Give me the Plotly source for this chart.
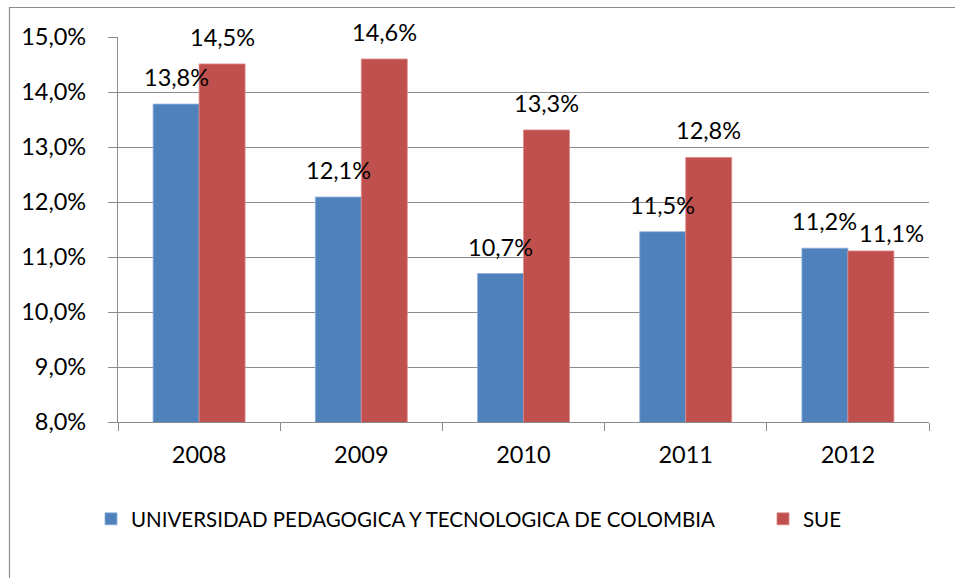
import plotly.graph_objects as go

years = ["2008", "2009", "2010", "2011", "2012"]
series_names = ["UNIVERSIDAD PEDAGOGICA Y TECNOLOGICA DE COLOMBIA", "SUE"]
uptc = [0.1378, 0.1209, 0.1070, 0.1146, 0.1116]
sue = [0.1451, 0.1460, 0.1331, 0.1281, 0.1111]
colors = ["#4F81BD", "#C0504D"]
edge_colors = ["#8DB0DC", "#DC8A88"]

W, H = 955, 578
ML, MR, MT, MB = 118, 26, 37, 156
PW, PH = W - ML - MR, H - MT - MB

def fmt(v):
    return f"{v*100:.1f}%".replace(".", ",")

fig = go.Figure()
legends = ["legend", "legend2"]
for name, vals, c, ec, lg in zip(series_names, [uptc, sue], colors, edge_colors, legends):
    fig.add_trace(go.Bar(x=years, y=vals, name=name, legend=lg,
                         marker=dict(color=c, line=dict(color=ec, width=0.8)),
                         hoverinfo="skip"))

FONT = "Lato, Carlito, Calibri, sans-serif"
FS = 23.5
annotations = []
for i, y in enumerate(years):
    a, b = uptc[i], sue[i]
    overlap = abs(a - b) < 0.003
    annotations.append(dict(x=i, y=a, text=fmt(a), xref="x", yref="y",
                            xshift=-23, yshift=27, showarrow=False,
                            font=dict(family=FONT, size=FS, color="#000")))
    annotations.append(dict(x=i, y=b, text=fmt(b), xref="x", yref="y",
                            xshift=23 + (21 if overlap else 0),
                            yshift=18 if overlap else 27, showarrow=False,
                            font=dict(family=FONT, size=FS, color="#000")))

# chart outer frame (pixels -> paper)
def px_x(p):
    return (p - ML) / PW
def px_y(p):
    return (H - MB - p) / PH

shapes = [dict(type="rect", xref="paper", yref="paper",
               x0=px_x(9.5), x1=px_x(W + 20), y0=px_y(H + 20), y1=px_y(7.5),
               line=dict(color="#8C8C8C", width=1.2), fillcolor="rgba(0,0,0,0)",
               layer="below")]

leg_common = dict(orientation="h", yanchor="middle", xanchor="left",
                  font=dict(family=FONT, size=20.5, color="#000"),
                  bgcolor="rgba(0,0,0,0)")

fig.update_layout(
    width=W, height=H,
    margin=dict(l=ML, r=MR, t=MT, b=MB),
    paper_bgcolor="white", plot_bgcolor="white",
    separators=",.",
    barmode="group", bargap=0.433, bargroupgap=0,
    font=dict(family=FONT, size=FS, color="#000"),
    annotations=annotations,
    shapes=shapes,
    showlegend=True,
    legend=dict(x=px_x(91), y=px_y(519), **leg_common),
    legend2=dict(x=px_x(763), y=px_y(519), **leg_common),
    xaxis=dict(type="category", showline=True, linecolor="#8C8C8C", linewidth=1.2,
               ticks="outside", tickson="boundaries", ticklen=8, tickcolor="#8C8C8C",
               tickwidth=1.2, showgrid=False, tickfont=dict(size=FS),
               ticklabelstandoff=12, tickangle=0, automargin=False),
    yaxis=dict(range=[0.08, 0.15], dtick=0.01, tickformat=".1%",
               showline=True, linecolor="#8C8C8C", linewidth=1.2,
               ticks="outside", ticklen=9, tickcolor="#8C8C8C", tickwidth=1.2,
               showgrid=True, gridcolor="#8C8C8C", gridwidth=1.2,
               zeroline=False, tickfont=dict(size=FS), ticklabelstandoff=17,
               automargin=False),
)

fig.write_html("out.html", config={"displayModeBar": False},
               post_script="document.body.style.margin='0';")
